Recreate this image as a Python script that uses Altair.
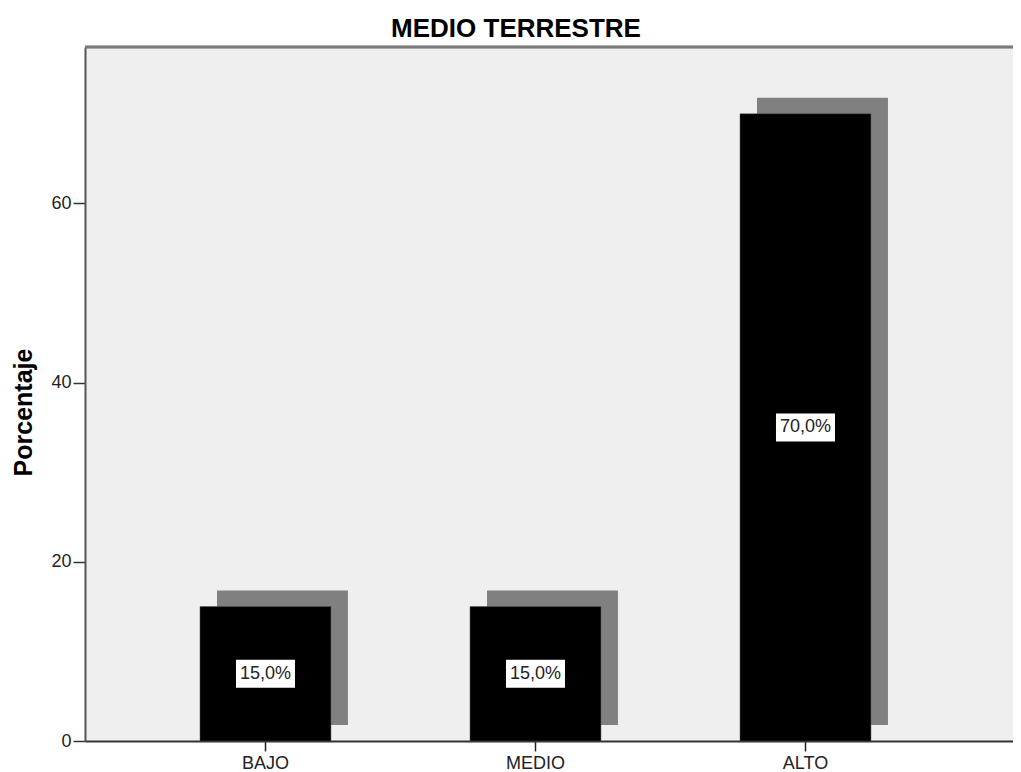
import altair as alt
import pandas as pd

categories = ["BAJO", "MEDIO", "ALTO"]
percentages = [15.0, 15.0, 70.0]
y_ticks = [0, 20, 40, 60]
title_text = "MEDIO TERRESTRE"
y_title = "Porcentaje"

labels = [f"{v:.1f}".replace(".", ",") + "%" for v in percentages]
df = pd.DataFrame({
    "cat": categories,
    "pct": percentages,
    "mid": [v / 2 for v in percentages],
    "label": labels,
})

FONT = "Liberation Sans"
W = 928
H = 694

x_enc = alt.X(
    "cat:N",
    sort=categories,
    title=None,
    scale=alt.Scale(paddingInner=0.515, paddingOuter=0.476, align=0.4474),
    axis=alt.Axis(
        labelAngle=0, labelFont=FONT, labelFontSize=18, labelColor="#222",
        labelPadding=3, tickSize=10, tickColor="#222", tickWidth=1.5,
        domainColor="#333", domainWidth=2,
    ),
)
y_scale = alt.Scale(domain=[0, 77.46], nice=False)
y_enc = alt.Y(
    "pct:Q",
    scale=y_scale,
    axis=alt.Axis(
        values=y_ticks, title=y_title, titleFont=FONT, titleFontSize=25,
        titleFontWeight="bold", titleColor="#000", titleAngle=270,
        titleX=-62, titleY=365, titleAlign="center", titleBaseline="middle",
        labelFont=FONT, labelFontSize=18, labelColor="#222", labelPadding=2,
        tickSize=12, tickColor="#333", tickWidth=1.5,
        domainColor="#555", domainWidth=2, grid=False,
    ),
)

base = alt.Chart(df)

top_border = base.mark_rule(color="#7a7a7a", strokeWidth=2.5).encode(
    x=alt.value(0), x2=alt.value(W), y=alt.value(0)
)

shadow = base.mark_bar(
    color="#808080", xOffset=17, x2Offset=17, yOffset=-16, y2Offset=-16
).encode(x=x_enc, y=y_enc)

bars = base.mark_bar(color="#000000", stroke="#555", strokeWidth=0.5).encode(
    x=x_enc, y=y_enc
)

box = base.mark_point(
    shape="M-1,-0.475L1,-0.475L1,0.475L-1,0.475Z",
    size=3481, filled=True, fill="#ffffff", opacity=1, strokeWidth=0,
).encode(x=alt.X("cat:N", sort=categories), y=alt.Y("mid:Q", scale=y_scale))

text = base.mark_text(
    font=FONT, fontSize=18, color="#222", align="center", baseline="middle"
).encode(
    x=alt.X("cat:N", sort=categories), y=alt.Y("mid:Q", scale=y_scale), text="label:N"
)

chart = alt.layer(shadow, bars, box, text, top_border).properties(
    width=W,
    height=H,
    title=alt.TitleParams(
        title_text, font=FONT, fontSize=26, fontWeight="bold", color="#000",
        anchor="middle", dx=-33, offset=4,
    ),
    autosize=alt.AutoSizeParams(type="none"),
    padding={"left": 77, "top": 39, "right": 0, "bottom": 38},
).configure(
    background="#ffffff"
).configure_view(
    fill="#efefef", stroke=None
)

chart.save("out.html", embed_options={"renderer": "svg", "actions": False})
